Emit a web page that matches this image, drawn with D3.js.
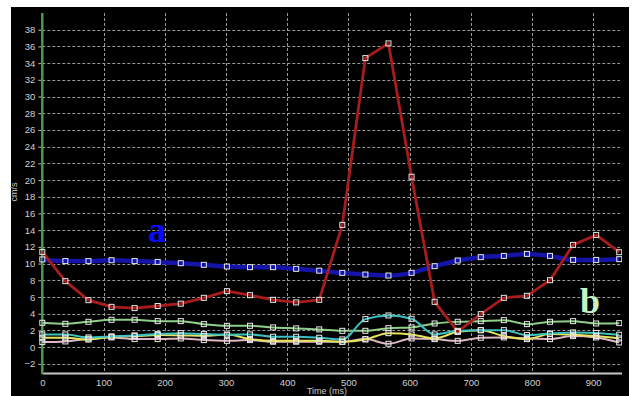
<!DOCTYPE html>
<html><head><meta charset="utf-8">
<script src="https://cdn.jsdelivr.net/npm/d3@7"></script>
<style>html,body{margin:0;padding:0;background:#fff;}svg{display:block;}</style>
</head><body>
<svg id="c" width="636" height="396"></svg>
<script>
const times = [0, 37.7, 75.4, 113.1, 150.8, 188.5, 226.2, 263.9, 301.6, 339.3, 377, 414.7, 452.4, 490.1, 527.8, 565.5, 603.2, 640.9, 678.6, 716.3, 754, 791.7, 829.4, 867.1, 904.8, 942.5];
const blueA  = [10.5, 10.3, 10.3, 10.4, 10.3, 10.2, 10.05, 9.85, 9.65, 9.57, 9.57, 9.37, 9.15, 8.89, 8.69, 8.57, 8.89, 9.69, 10.37, 10.77, 10.92, 11.16, 10.92, 10.44, 10.44, 10.53];
const red    = [11.4, 7.9, 5.62, 4.82, 4.67, 4.92, 5.2, 5.9, 6.7, 6.22, 5.66, 5.35, 5.66, 14.63, 34.6, 36.36, 20.4, 5.42, 1.85, 3.95, 5.9, 6.14, 8.01, 12.24, 13.43, 11.36];
const greenB = [2.91, 2.79, 3.03, 3.27, 3.27, 3.11, 3.11, 2.75, 2.55, 2.55, 2.36, 2.24, 2.12, 1.95, 1.95, 2.27, 2.36, 2.83, 3.03, 3.11, 3.23, 2.75, 3.03, 3.11, 2.83, 2.87];
const cyan   = [1.52, 1.52, 1.16, 1.28, 1.4, 1.56, 1.67, 1.56, 1.48, 1.52, 1.24, 1.24, 1.12, 0.92, 3.35, 3.79, 3.39, 1.52, 1.95, 2.03, 2.03, 1.44, 1.63, 1.76, 1.7, 1.48];
const yellow = [1.12, 1.12, 0.9, 1.24, 1.32, 1.44, 1.4, 1.35, 1.5, 0.96, 0.75, 0.75, 0.75, 0.64, 0.92, 1.67, 1.52, 1.04, 1.83, 2.03, 1.32, 0.96, 1.56, 1.48, 1.32, 1.04];
const pink   = [0.6, 0.68, 1.0, 1.16, 0.96, 0.96, 1.04, 0.84, 0.75, 0.84, 0.64, 0.64, 0.64, 0.64, 0.96, 0.4, 1.04, 0.96, 0.75, 1.12, 1.16, 1.04, 0.96, 1.32, 1.16, 0.56];
const yTicks = [-2, 0, 2, 4, 6, 8, 10, 12, 14, 16, 18, 20, 22, 24, 26, 28, 30, 32, 34, 36, 38];
const xTicks = [0, 100, 200, 300, 400, 500, 600, 700, 800, 900];

const svg = d3.select("#c");
svg.append("rect").attr("x", 11).attr("y", 7).attr("width", 618).attr("height", 389).attr("fill", "#000");

const x = d3.scaleLinear().domain([0, 947]).range([42.3, 622]);
const y = d3.scaleLinear().domain([-3.1, 40]).range([373, 13]);

// grid
const grid = svg.append("g");
grid.selectAll("line.h").data(yTicks).join("line")
  .attr("x1", x(0)).attr("x2", 620).attr("y1", d => Math.round(y(d)) + 0.5).attr("y2", d => Math.round(y(d)) + 0.5)
  .attr("stroke", "#9a9a9a").attr("stroke-width", 1).attr("stroke-dasharray", "3,2");
grid.selectAll("line.v").data(xTicks.slice(1)).join("line")
  .attr("x1", d => Math.round(x(d)) + 0.5).attr("x2", d => Math.round(x(d)) + 0.5).attr("y1", 13).attr("y2", 373)
  .attr("stroke", "#9a9a9a").attr("stroke-width", 1).attr("stroke-dasharray", "3,2");

// axes
const yAxis = d3.axisLeft(y).tickValues(yTicks).tickSize(4).tickPadding(3);
const gy = svg.append("g").attr("transform", `translate(${x(0)},0)`).call(yAxis);
gy.select(".domain").remove();
gy.selectAll(".tick line").attr("stroke", "#bbb");
gy.selectAll(".tick text").attr("fill", "#d0d0d0").attr("font-family", "Liberation Sans, Arial, sans-serif").attr("font-size", 9.5);

const xAxis = d3.axisBottom(x).tickValues(xTicks).tickSize(0).tickPadding(6).tickFormat(d3.format("d"));
const gx = svg.append("g").attr("transform", `translate(0,373)`).call(xAxis);
gx.select(".domain").remove();
gx.selectAll(".tick text").attr("fill", "#d0d0d0").attr("font-family", "Liberation Sans, Arial, sans-serif").attr("font-size", 9.5);

svg.append("line").attr("x1", x(0)).attr("x2", 622).attr("y1", 373.5).attr("y2", 373.5).attr("stroke", "#c8c8c8").attr("stroke-width", 2);
svg.append("line").attr("x1", x(0)).attr("x2", x(0)).attr("y1", 13).attr("y2", 374).attr("stroke", "#4a9a4a").attr("stroke-width", 2.5);

svg.append("text").attr("transform", "translate(17,192) rotate(-90)").attr("text-anchor", "middle")
  .attr("fill", "#c8c8c8").attr("font-family", "Liberation Sans, Arial, sans-serif").attr("font-size", 9).text("cm/s");
svg.append("text").attr("x", 327).attr("y", 394).attr("text-anchor", "middle")
  .attr("fill", "#c8c8c8").attr("font-family", "Liberation Sans, Arial, sans-serif").attr("font-size", 9).text("Time (ms)");

// series
const series = [
  {v: greenB, c: "#8fcf8a", w: 2, curve: d3.curveMonotoneX},
  {v: pink, c: "#e0b8c4", w: 2, curve: d3.curveMonotoneX},
  {v: yellow, c: "#e6e25a", w: 2, curve: d3.curveMonotoneX},
  {v: cyan, c: "#3cc0c0", w: 2, curve: d3.curveMonotoneX},
  {v: blueA, c: "#1414a8", w: 4.5, curve: d3.curveMonotoneX},
  {v: red, c: "#a81c1c", w: 2.8, curve: d3.curveLinear}
];
svg.append("clipPath").attr("id", "pc").append("rect").attr("x", 11).attr("y", 7).attr("width", 611).attr("height", 389);
const plot = svg.append("g").attr("clip-path", "url(#pc)");
series.forEach(s => {
  const line = d3.line().x((d, i) => x(times[i])).y(d => y(d)).curve(s.curve);
  plot.append("path").datum(s.v).attr("d", line).attr("fill", "none").attr("stroke", s.c).attr("stroke-width", s.w).attr("stroke-linejoin", "round");
});
series.forEach(s => {
  plot.selectAll(null).data(s.v).join("rect")
    .attr("x", (d, i) => x(times[i]) - 2.5).attr("y", d => y(d) - 2.5).attr("width", 5).attr("height", 5)
    .attr("fill", "none").attr("stroke", "#e8e8e8").attr("stroke-width", 1);
});

svg.append("text").attr("x", 157).attr("y", 242).attr("text-anchor", "middle").attr("fill", "#0a0aff")
  .attr("font-family", "Liberation Serif, Times New Roman, serif").attr("font-weight", "bold").attr("font-size", 36).text("a");
svg.append("text").attr("x", 590).attr("y", 313).attr("text-anchor", "middle").attr("fill", "#c6f2c0")
  .attr("font-family", "Liberation Serif, Times New Roman, serif").attr("font-weight", "bold").attr("font-size", 36).text("b");
</script>
</body></html>
